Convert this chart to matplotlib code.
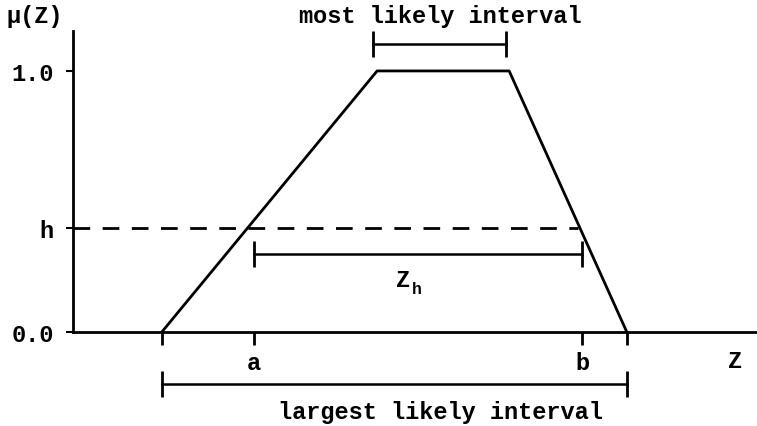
import matplotlib
matplotlib.use('Agg')
import matplotlib.pyplot as plt

# trapezoidal membership function (z in arbitrary units, mu in [0, 1])
trap_z = [1.91, 6.54, 9.38, 11.91]
trap_mu = [0.0, 1.0, 1.0, 0.0]
h_level = 0.40
a_z = 3.89
b_z = 10.95
h_right_z = 10.85          # where the dashed h line meets the right slope
ytick_vals = [0.0, h_level, 1.0]
ytick_labels = ['0.0', 'h', '1.0']
xtick_vals = [trap_z[0], a_z, b_z, trap_z[3]]
xtick_labels = ['', 'a', 'b', '']

plt.rcParams['font.family'] = ['Liberation Mono', 'DejaVu Sans Mono']
plt.rcParams['font.weight'] = 'bold'
FS = 17

fig = plt.figure(figsize=(7.57, 4.27), dpi=100)
ax = fig.add_axes([73 / 757, 94 / 427, 684 / 757, 301 / 427])
ax.set_xlim(0, 14.71)
ax.set_ylim(0, 1.153)

for side in ['top', 'right']:
    ax.spines[side].set_visible(False)
for side in ['left', 'bottom']:
    ax.spines[side].set_linewidth(2)

# membership curve
ax.plot(trap_z, trap_mu, color='black', lw=2, clip_on=False)

# h cut
ax.plot([0, h_right_z], [h_level, h_level], color='black', lw=2,
        linestyle=(0, (6, 4.5)))

# ticks
ax.set_yticks(ytick_vals)
ax.set_yticklabels(ytick_labels, fontsize=FS, fontweight='bold')
ax.tick_params(axis='y', direction='out', length=5, width=1.5, pad=9)
ax.set_xticks(xtick_vals)
ax.set_xticklabels(xtick_labels, fontsize=FS, fontweight='bold')
ax.tick_params(axis='x', direction='out', length=9.5, width=2, pad=4)


def interval(z0, z1, y):
    ax.plot([z0, z1], [y, y], color='black', lw=1.8, marker='|',
            markersize=19, markeredgewidth=2, clip_on=False)


# Z_h interval
interval(a_z, b_z, 0.299)
ax.text(7.10, 0.200, 'Z', fontsize=FS, ha='center', va='center')
ax.text(7.40, 0.165, 'h', fontsize=12, ha='center', va='center')

# most likely interval
interval(6.45, 9.31, 1.103)
ax.text(7.89, 1.211, 'most likely interval', fontsize=FS, ha='center',
        va='center', clip_on=False)

# largest likely interval
interval(trap_z[0], trap_z[3], -0.199)
ax.text(7.91, -0.303, 'largest likely interval', fontsize=FS, ha='center',
        va='center', clip_on=False)

# axis labels
ax.text(-0.82, 1.211, 'μ(Z)', fontsize=FS, ha='center', va='center',
        clip_on=False)
ax.text(14.24, -0.111, 'Z', fontsize=FS, ha='center', va='center',
        clip_on=False)

fig.savefig('out.png', dpi=100, facecolor='white')
